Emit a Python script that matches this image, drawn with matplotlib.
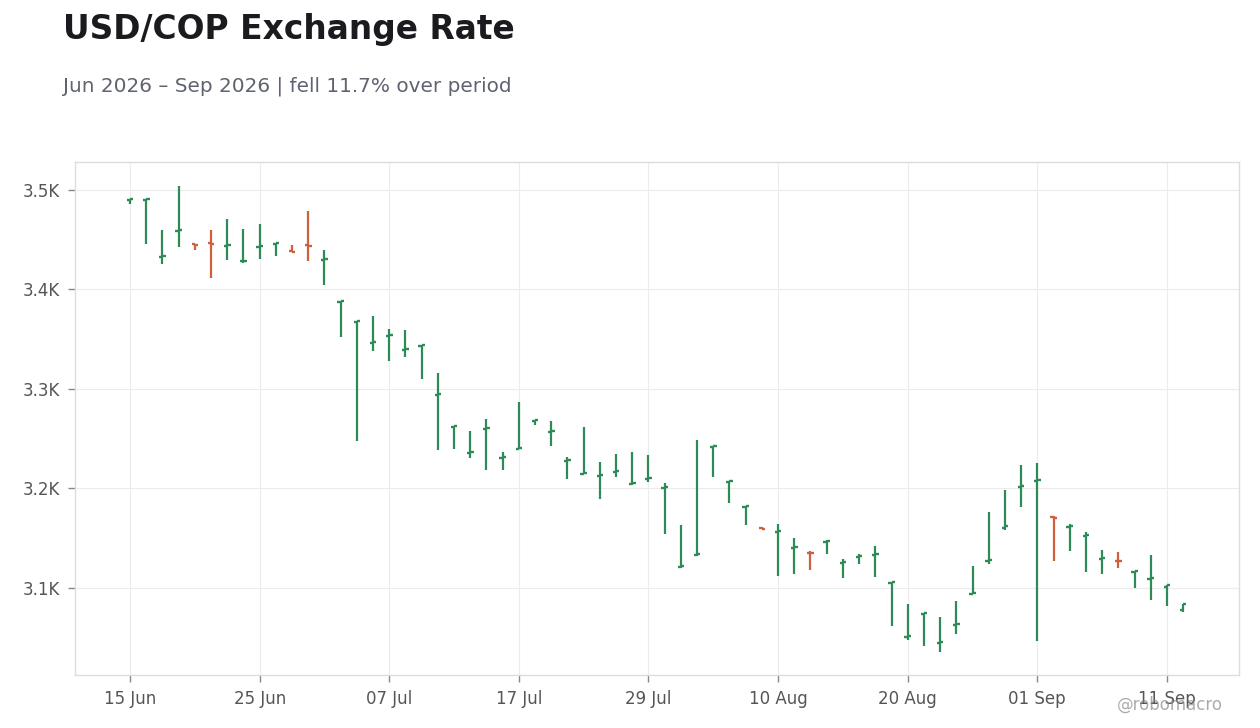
import matplotlib
matplotlib.use("Agg")
import matplotlib.pyplot as plt
from matplotlib.ticker import FuncFormatter, FixedLocator
import numpy as np
import pandas as pd

# ---- data ----
dates = pd.bdate_range("2026-06-15", periods=66)
opens = [3490, 3490, 3433, 3459, 3445.5, 3446.5, 3444, 3428.5, 3443, 3446,
         3438.5, 3444.5, 3430, 3387, 3367, 3346, 3353, 3339, 3343, 3294,
         3262, 3236, 3260, 3231, 3240, 3268, 3257, 3228, 3215, 3213,
         3217, 3204, 3210, 3200, 3121, 3133, 3242, 3207, 3181, 3160,
         3156, 3140, 3135.5, 3146.5, 3125, 3131, 3133, 3105, 3051, 3074,
         3045, 3063, 3094, 3127, 3160, 3201, 3208, 3171, 3161, 3152,
         3129, 3127.5, 3116, 3109, 3101, 3078]
highs = [3491, 3490.5, 3460, 3504, 3446, 3460, 3471, 3461, 3466, 3446.5,
         3445, 3479, 3440, 3388, 3368, 3373, 3360, 3359, 3344, 3316,
         3263, 3258, 3270, 3237, 3287, 3269, 3268, 3232, 3262, 3227,
         3235, 3237, 3234, 3206, 3163, 3249, 3243, 3208, 3182, 3161,
         3164, 3150, 3137, 3148, 3129, 3134, 3142, 3106, 3084, 3075,
         3071, 3087, 3122, 3176, 3198, 3224, 3226, 3172, 3164, 3156,
         3138, 3136, 3117, 3133, 3103, 3084]
lows = [3486, 3446, 3426, 3443, 3440, 3411, 3430, 3427, 3431, 3434,
        3438, 3429, 3404, 3352, 3248, 3338, 3328, 3332, 3310, 3239,
        3240, 3231, 3219, 3219, 3240, 3264, 3243, 3210, 3215, 3189,
        3212, 3203, 3207, 3154, 3120, 3132, 3212, 3185, 3163, 3159,
        3112, 3114, 3118, 3134, 3110, 3124, 3111, 3062, 3048, 3042,
        3036, 3054, 3094, 3124, 3158, 3181, 3047, 3127, 3137, 3116,
        3114, 3120, 3100, 3088, 3082, 3076]
closes = [3491, 3490.5, 3434, 3460, 3445, 3446, 3445, 3429, 3444, 3446.5,
          3438, 3444, 3431, 3388, 3368, 3347, 3354, 3340, 3344, 3295,
          3263, 3237, 3261, 3232, 3240.5, 3269, 3258, 3229, 3216, 3214,
          3218, 3205, 3211, 3201, 3122, 3134, 3243, 3208, 3182, 3159.5,
          3157, 3141, 3135, 3147, 3126, 3132, 3134, 3106, 3052, 3075,
          3046, 3064, 3095, 3128, 3162, 3202, 3209, 3170, 3162, 3153,
          3130, 3127, 3117, 3110, 3103, 3084]
y_ticks = [3100, 3200, 3300, 3400, 3500]

UP = "#2E8B57"
DOWN = "#D0603D"

fig = plt.figure(figsize=(12.6, 7.28), dpi=100)
ax = fig.add_axes([75/1260, 1-675/728, (1239-75)/1260, (675-162)/728])

x = np.arange(len(dates))
o = np.array(opens); h = np.array(highs); l = np.array(lows); c = np.array(closes)
cols = [UP if cc >= oo else DOWN for oo, cc in zip(o, c)]
tw = 0.2
ax.vlines(x, l, h, colors=cols, linewidth=1.6, zorder=3)
ax.hlines(o, x - tw, x, colors=cols, linewidth=1.7, zorder=3)
ax.hlines(c, x, x + tw, colors=cols, linewidth=1.7, zorder=3)

ax.set_xlim(-3.4, 68.45)
ax.set_ylim(3012.6, 3528)

tick_idx = list(range(0, len(dates), 8))
ax.xaxis.set_major_locator(FixedLocator(tick_idx))
ax.set_xticklabels([dates[i].strftime("%d %b") for i in tick_idx])
ax.yaxis.set_major_locator(FixedLocator(y_ticks))
ax.yaxis.set_major_formatter(FuncFormatter(lambda v, p: f"{v/1000:.1f}K"))

ax.grid(True, color="#ececec", linewidth=0.8, zorder=0)
ax.set_axisbelow(True)
for s in ax.spines.values():
    s.set_color("#dddddd")
    s.set_linewidth(1.0)
ax.tick_params(axis="both", colors="#888888", labelcolor="#555555",
               labelsize=12, length=5, width=1)
ax.tick_params(axis="x", pad=6)
ax.tick_params(axis="y", pad=6)

fig.text(63/1260, 1-30/728, "USD/COP Exchange Rate", fontsize=23.7,
         fontweight="bold", color="#1a1a1f", va="center", ha="left")
fig.text(63/1260, 1-86/728, "Jun 2026 – Sep 2026 | fell 11.7% over period",
         fontsize=14.4, color="#5f6370", va="center", ha="left")
fig.text(1170/1260, 1-705/728, "@robomacro", fontsize=12, color="#888888",
         alpha=0.7, va="center", ha="center")

fig.savefig("out.png", dpi=100)
